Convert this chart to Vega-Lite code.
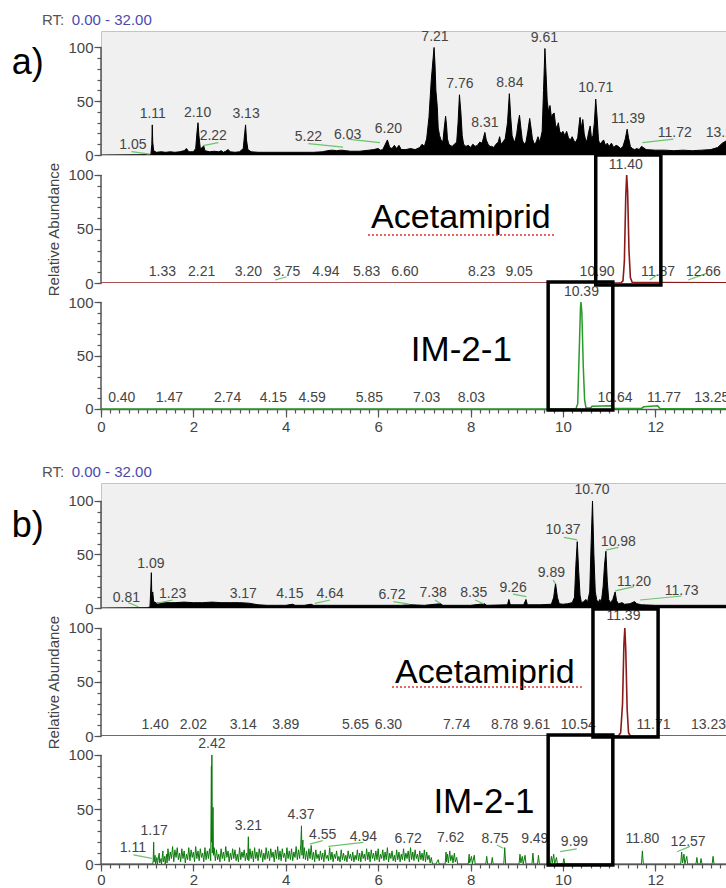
{
"$schema":"https://vega.github.io/schema/vega-lite/v6.json",
"padding":{"left":11,"top":12,"right":0,"bottom":0},
"bounds":"flush",
"spacing":0,
"config":{"font":"Liberation Sans","view":{"stroke":null},"concat":{"spacing":0},
 "axis":{"grid":false,"labelColor":"#444","labelFontSize":15,"tickColor":"#555","domainColor":"#555","titleFontWeight":"normal","titleFontSize":15,"titleColor":"#444"}},
"datasets":{
"a1":[{"rt":0,"ab":0},{"rt":1.0,"ab":0.3},{"rt":1.08,"ab":0.5},{"rt":1.1,"ab":10},{"rt":1.11,"ab":28},{"rt":1.12,"ab":12},{"rt":1.14,"ab":4},{"rt":1.2,"ab":2.5},{"rt":1.3,"ab":3},{"rt":1.4,"ab":2.5},{"rt":1.5,"ab":3},{"rt":1.6,"ab":2.5},{"rt":1.7,"ab":3},{"rt":1.8,"ab":4},{"rt":1.85,"ab":6},{"rt":1.9,"ab":3},{"rt":2.0,"ab":3},{"rt":2.05,"ab":6},{"rt":2.08,"ab":22},{"rt":2.1,"ab":30},{"rt":2.12,"ab":18},{"rt":2.15,"ab":6},{"rt":2.2,"ab":7},{"rt":2.22,"ab":9},{"rt":2.25,"ab":4},{"rt":2.35,"ab":3},{"rt":2.45,"ab":3.5},{"rt":2.55,"ab":3},{"rt":2.6,"ab":4},{"rt":2.65,"ab":2.5},{"rt":2.7,"ab":3.5},{"rt":2.75,"ab":5},{"rt":2.8,"ab":3},{"rt":2.9,"ab":2.5},{"rt":3.0,"ab":3},{"rt":3.08,"ab":6},{"rt":3.11,"ab":20},{"rt":3.13,"ab":28},{"rt":3.15,"ab":14},{"rt":3.18,"ab":5},{"rt":3.25,"ab":3},{"rt":3.4,"ab":2.5},{"rt":3.6,"ab":2.5},{"rt":3.8,"ab":2.5},{"rt":4.0,"ab":2.5},{"rt":4.2,"ab":2.5},{"rt":4.4,"ab":2.5},{"rt":4.6,"ab":2.5},{"rt":4.8,"ab":3},{"rt":4.9,"ab":4},{"rt":5.0,"ab":4.5},{"rt":5.1,"ab":4},{"rt":5.2,"ab":4.5},{"rt":5.3,"ab":4},{"rt":5.4,"ab":3.5},{"rt":5.6,"ab":3.5},{"rt":5.8,"ab":4.5},{"rt":5.9,"ab":5},{"rt":6.0,"ab":6},{"rt":6.05,"ab":4.5},{"rt":6.1,"ab":5},{"rt":6.2,"ab":14},{"rt":6.25,"ab":7},{"rt":6.3,"ab":6},{"rt":6.35,"ab":9},{"rt":6.4,"ab":6},{"rt":6.45,"ab":9},{"rt":6.5,"ab":5},{"rt":6.6,"ab":5},{"rt":6.7,"ab":6},{"rt":6.8,"ab":5},{"rt":6.9,"ab":7},{"rt":6.95,"ab":10},{"rt":7.0,"ab":8},{"rt":7.05,"ab":15},{"rt":7.1,"ab":35},{"rt":7.15,"ab":70},{"rt":7.19,"ab":90},{"rt":7.21,"ab":100},{"rt":7.23,"ab":85},{"rt":7.25,"ab":60},{"rt":7.28,"ab":45},{"rt":7.3,"ab":25},{"rt":7.33,"ab":18},{"rt":7.36,"ab":14},{"rt":7.4,"ab":12},{"rt":7.43,"ab":25},{"rt":7.46,"ab":36},{"rt":7.48,"ab":28},{"rt":7.5,"ab":15},{"rt":7.53,"ab":10},{"rt":7.56,"ab":9},{"rt":7.6,"ab":8},{"rt":7.65,"ab":10},{"rt":7.7,"ab":12},{"rt":7.73,"ab":30},{"rt":7.76,"ab":56},{"rt":7.79,"ab":40},{"rt":7.82,"ab":18},{"rt":7.85,"ab":10},{"rt":7.9,"ab":8},{"rt":7.95,"ab":9},{"rt":8.0,"ab":7},{"rt":8.05,"ab":10},{"rt":8.1,"ab":8},{"rt":8.15,"ab":9},{"rt":8.2,"ab":12},{"rt":8.25,"ab":11},{"rt":8.28,"ab":16},{"rt":8.31,"ab":21},{"rt":8.34,"ab":14},{"rt":8.38,"ab":10},{"rt":8.42,"ab":8},{"rt":8.46,"ab":8},{"rt":8.5,"ab":7},{"rt":8.55,"ab":10},{"rt":8.6,"ab":12},{"rt":8.63,"ab":17},{"rt":8.66,"ab":10},{"rt":8.7,"ab":12},{"rt":8.75,"ab":15},{"rt":8.8,"ab":30},{"rt":8.84,"ab":57},{"rt":8.87,"ab":35},{"rt":8.9,"ab":18},{"rt":8.93,"ab":14},{"rt":8.96,"ab":12},{"rt":9.0,"ab":20},{"rt":9.03,"ab":30},{"rt":9.06,"ab":37},{"rt":9.09,"ab":25},{"rt":9.12,"ab":14},{"rt":9.16,"ab":10},{"rt":9.2,"ab":12},{"rt":9.24,"ab":22},{"rt":9.28,"ab":34},{"rt":9.31,"ab":25},{"rt":9.34,"ab":15},{"rt":9.38,"ab":10},{"rt":9.42,"ab":12},{"rt":9.46,"ab":17},{"rt":9.5,"ab":12},{"rt":9.55,"ab":22},{"rt":9.58,"ab":60},{"rt":9.61,"ab":99},{"rt":9.63,"ab":80},{"rt":9.66,"ab":50},{"rt":9.69,"ab":40},{"rt":9.72,"ab":46},{"rt":9.75,"ab":35},{"rt":9.78,"ab":38},{"rt":9.81,"ab":39},{"rt":9.84,"ab":28},{"rt":9.87,"ab":25},{"rt":9.9,"ab":30},{"rt":9.93,"ab":22},{"rt":9.96,"ab":20},{"rt":10.0,"ab":22},{"rt":10.04,"ab":18},{"rt":10.08,"ab":22},{"rt":10.12,"ab":16},{"rt":10.16,"ab":14},{"rt":10.2,"ab":17},{"rt":10.24,"ab":13},{"rt":10.28,"ab":12},{"rt":10.32,"ab":16},{"rt":10.35,"ab":28},{"rt":10.37,"ab":35},{"rt":10.4,"ab":25},{"rt":10.43,"ab":33},{"rt":10.46,"ab":20},{"rt":10.5,"ab":12},{"rt":10.53,"ab":15},{"rt":10.56,"ab":22},{"rt":10.59,"ab":27},{"rt":10.62,"ab":15},{"rt":10.65,"ab":18},{"rt":10.68,"ab":30},{"rt":10.71,"ab":52},{"rt":10.74,"ab":35},{"rt":10.77,"ab":14},{"rt":10.8,"ab":10},{"rt":10.84,"ab":12},{"rt":10.88,"ab":14},{"rt":10.92,"ab":9},{"rt":10.96,"ab":11},{"rt":11.0,"ab":8},{"rt":11.05,"ab":11},{"rt":11.1,"ab":7},{"rt":11.15,"ab":9},{"rt":11.2,"ab":8},{"rt":11.25,"ab":6},{"rt":11.3,"ab":8},{"rt":11.35,"ab":15},{"rt":11.39,"ab":24},{"rt":11.42,"ab":16},{"rt":11.46,"ab":8},{"rt":11.5,"ab":6},{"rt":11.55,"ab":5},{"rt":11.6,"ab":6},{"rt":11.65,"ab":5},{"rt":11.7,"ab":8},{"rt":11.74,"ab":7},{"rt":11.8,"ab":5},{"rt":12.0,"ab":4.5},{"rt":12.2,"ab":4.5},{"rt":12.4,"ab":4},{"rt":12.6,"ab":4.5},{"rt":12.8,"ab":4},{"rt":13.0,"ab":4.5},{"rt":13.2,"ab":5},{"rt":13.35,"ab":7},{"rt":13.45,"ab":11},{"rt":13.53,"ab":13}],
"a2":[{"rt":0,"ab":0},{"rt":11.25,"ab":0},{"rt":11.3,"ab":2},{"rt":11.33,"ab":20},{"rt":11.36,"ab":80},{"rt":11.38,"ab":100},{"rt":11.4,"ab":85},{"rt":11.43,"ab":30},{"rt":11.46,"ab":5},{"rt":11.5,"ab":0.5},{"rt":11.8,"ab":0.5},{"rt":13.53,"ab":0.3}],
"a3":[{"rt":0,"ab":0},{"rt":10.28,"ab":0},{"rt":10.32,"ab":5},{"rt":10.35,"ab":50},{"rt":10.38,"ab":95},{"rt":10.39,"ab":100},{"rt":10.41,"ab":90},{"rt":10.44,"ab":40},{"rt":10.47,"ab":8},{"rt":10.5,"ab":1},{"rt":10.6,"ab":1},{"rt":10.63,"ab":2.5},{"rt":11.05,"ab":3},{"rt":11.1,"ab":0.5},{"rt":11.7,"ab":0.5},{"rt":11.75,"ab":2},{"rt":12.05,"ab":3},{"rt":12.1,"ab":0.5},{"rt":13.53,"ab":0.3}],
"b1":[{"rt":0,"ab":0},{"rt":1.0,"ab":0.3},{"rt":1.06,"ab":1},{"rt":1.08,"ab":20},{"rt":1.09,"ab":33},{"rt":1.1,"ab":10},{"rt":1.12,"ab":15},{"rt":1.14,"ab":6},{"rt":1.2,"ab":4.5},{"rt":1.4,"ab":5},{"rt":1.6,"ab":5},{"rt":1.8,"ab":5.5},{"rt":2.0,"ab":5},{"rt":2.2,"ab":5},{"rt":2.4,"ab":5.5},{"rt":2.6,"ab":5},{"rt":2.8,"ab":5},{"rt":3.0,"ab":5},{"rt":3.2,"ab":4.5},{"rt":3.4,"ab":3},{"rt":3.6,"ab":2.5},{"rt":3.8,"ab":2.5},{"rt":4.0,"ab":2.5},{"rt":4.15,"ab":3.5},{"rt":4.2,"ab":2.5},{"rt":4.4,"ab":2.5},{"rt":4.55,"ab":3.5},{"rt":4.6,"ab":2.5},{"rt":4.8,"ab":2.5},{"rt":5.0,"ab":2.5},{"rt":5.5,"ab":2.5},{"rt":6.0,"ab":2.5},{"rt":6.5,"ab":2.5},{"rt":6.7,"ab":3},{"rt":7.0,"ab":2.5},{"rt":7.35,"ab":4},{"rt":7.4,"ab":2.5},{"rt":8.0,"ab":2.5},{"rt":8.3,"ab":4},{"rt":8.35,"ab":2.5},{"rt":8.8,"ab":3},{"rt":8.83,"ab":8},{"rt":8.86,"ab":3},{"rt":9.15,"ab":3},{"rt":9.2,"ab":8},{"rt":9.23,"ab":3},{"rt":9.5,"ab":3},{"rt":9.75,"ab":3.5},{"rt":9.8,"ab":10},{"rt":9.84,"ab":23},{"rt":9.88,"ab":10},{"rt":9.92,"ab":4},{"rt":10.0,"ab":3.5},{"rt":10.1,"ab":4},{"rt":10.2,"ab":5},{"rt":10.25,"ab":10},{"rt":10.28,"ab":40},{"rt":10.31,"ab":62},{"rt":10.34,"ab":35},{"rt":10.37,"ab":12},{"rt":10.4,"ab":5},{"rt":10.45,"ab":6},{"rt":10.5,"ab":8},{"rt":10.53,"ab":5},{"rt":10.58,"ab":15},{"rt":10.61,"ab":60},{"rt":10.64,"ab":100},{"rt":10.67,"ab":50},{"rt":10.7,"ab":15},{"rt":10.73,"ab":8},{"rt":10.76,"ab":5},{"rt":10.8,"ab":8},{"rt":10.83,"ab":5},{"rt":10.87,"ab":20},{"rt":10.9,"ab":40},{"rt":10.93,"ab":53},{"rt":10.96,"ab":25},{"rt":10.99,"ab":8},{"rt":11.03,"ab":5},{"rt":11.08,"ab":8},{"rt":11.13,"ab":15},{"rt":11.16,"ab":7},{"rt":11.2,"ab":4},{"rt":11.28,"ab":5},{"rt":11.33,"ab":3.5},{"rt":11.45,"ab":4},{"rt":11.55,"ab":6},{"rt":11.6,"ab":4},{"rt":11.7,"ab":3},{"rt":12.0,"ab":2.5},{"rt":12.5,"ab":2.5},{"rt":13.0,"ab":2.5},{"rt":13.53,"ab":2.5}],
"b2":[{"rt":0,"ab":0},{"rt":11.2,"ab":0},{"rt":11.25,"ab":3},{"rt":11.29,"ab":30},{"rt":11.32,"ab":85},{"rt":11.34,"ab":100},{"rt":11.36,"ab":80},{"rt":11.39,"ab":25},{"rt":11.42,"ab":3},{"rt":11.46,"ab":0},{"rt":13.53,"ab":0}],
"b3":[{"rt":0,"ab":0},{"rt":1.12,"ab":0},{"rt":1.13,"ab":3},{"rt":1.14,"ab":20},{"rt":1.15,"ab":2},{"rt":1.17,"ab":8},{"rt":1.18,"ab":0},{"rt":1.21,"ab":6},{"rt":1.22,"ab":0},{"rt":1.26,"ab":10},{"rt":1.27,"ab":1},{"rt":1.3,"ab":5},{"rt":1.31,"ab":0},{"rt":1.34,"ab":12},{"rt":1.35,"ab":2},{"rt":1.38,"ab":7},{"rt":1.39,"ab":0},{"rt":1.42,"ab":9},{"rt":1.43,"ab":1},
{"rt":1.45,"ab":14},{"rt":1.475,"ab":3},{"rt":1.5,"ab":11},{"rt":1.525,"ab":5},{"rt":1.55,"ab":16},{"rt":1.575,"ab":2},{"rt":1.6,"ab":13},{"rt":1.625,"ab":6},{"rt":1.65,"ab":15},{"rt":1.675,"ab":4},{"rt":1.7,"ab":10},{"rt":1.725,"ab":2},{"rt":1.75,"ab":14},{"rt":1.775,"ab":5},{"rt":1.8,"ab":12},{"rt":1.825,"ab":1},{"rt":1.85,"ab":9},{"rt":1.875,"ab":4},{"rt":1.9,"ab":15},{"rt":1.925,"ab":3},{"rt":1.95,"ab":13},{"rt":1.975,"ab":6},{"rt":2.0,"ab":11},{"rt":2.025,"ab":2},{"rt":2.05,"ab":16},{"rt":2.075,"ab":5},{"rt":2.1,"ab":12},{"rt":2.125,"ab":3},{"rt":2.15,"ab":14},{"rt":2.175,"ab":6},{"rt":2.2,"ab":10},{"rt":2.225,"ab":2},{"rt":2.25,"ab":15},{"rt":2.275,"ab":4},{"rt":2.3,"ab":12},{"rt":2.325,"ab":5},{"rt":2.35,"ab":14},{"rt":2.375,"ab":3},
{"rt":2.39,"ab":90},{"rt":2.395,"ab":20},{"rt":2.4,"ab":100},{"rt":2.41,"ab":10},{"rt":2.425,"ab":52},{"rt":2.435,"ab":8},{"rt":2.45,"ab":15},{"rt":2.475,"ab":3},
{"rt":2.5,"ab":13},{"rt":2.525,"ab":4},{"rt":2.55,"ab":9},{"rt":2.575,"ab":2},{"rt":2.6,"ab":14},{"rt":2.625,"ab":5},{"rt":2.65,"ab":11},{"rt":2.675,"ab":3},{"rt":2.7,"ab":16},{"rt":2.725,"ab":6},{"rt":2.75,"ab":12},{"rt":2.775,"ab":2},{"rt":2.8,"ab":10},{"rt":2.825,"ab":4},{"rt":2.85,"ab":14},{"rt":2.875,"ab":5},{"rt":2.9,"ab":13},{"rt":2.925,"ab":3},{"rt":2.95,"ab":9},{"rt":2.975,"ab":2},{"rt":3.0,"ab":15},{"rt":3.025,"ab":4},{"rt":3.05,"ab":11},{"rt":3.075,"ab":6},{"rt":3.1,"ab":13},{"rt":3.125,"ab":3},{"rt":3.15,"ab":10},{"rt":3.175,"ab":4},{"rt":3.19,"ab":25},{"rt":3.2,"ab":3},{"rt":3.225,"ab":14},{"rt":3.25,"ab":5},{"rt":3.275,"ab":12},{"rt":3.3,"ab":2},{"rt":3.325,"ab":15},{"rt":3.35,"ab":5},{"rt":3.375,"ab":11},{"rt":3.4,"ab":3},{"rt":3.425,"ab":14},{"rt":3.45,"ab":6},{"rt":3.475,"ab":13},{"rt":3.5,"ab":2},{"rt":3.525,"ab":10},{"rt":3.55,"ab":4},{"rt":3.575,"ab":15},{"rt":3.6,"ab":5},{"rt":3.625,"ab":12},{"rt":3.65,"ab":3},{"rt":3.675,"ab":14},{"rt":3.7,"ab":6},{"rt":3.725,"ab":11},{"rt":3.75,"ab":2},{"rt":3.775,"ab":13},{"rt":3.8,"ab":5},{"rt":3.825,"ab":16},{"rt":3.85,"ab":4},{"rt":3.875,"ab":12},{"rt":3.9,"ab":3},{"rt":3.925,"ab":14},{"rt":3.95,"ab":6},{"rt":3.975,"ab":10},{"rt":4.0,"ab":2},{"rt":4.025,"ab":15},{"rt":4.05,"ab":5},{"rt":4.075,"ab":12},{"rt":4.1,"ab":4},{"rt":4.125,"ab":14},{"rt":4.15,"ab":3},{"rt":4.175,"ab":11},{"rt":4.2,"ab":6},{"rt":4.225,"ab":16},{"rt":4.25,"ab":4},{"rt":4.275,"ab":13},{"rt":4.3,"ab":5},{"rt":4.325,"ab":18},{"rt":4.34,"ab":35},{"rt":4.35,"ab":8},{"rt":4.37,"ab":22},{"rt":4.38,"ab":5},{"rt":4.4,"ab":15},{"rt":4.425,"ab":4},{"rt":4.45,"ab":12},{"rt":4.475,"ab":3},{"rt":4.5,"ab":14},{"rt":4.525,"ab":5},{"rt":4.55,"ab":17},{"rt":4.575,"ab":4},{"rt":4.6,"ab":11},{"rt":4.625,"ab":2},{"rt":4.65,"ab":13},{"rt":4.675,"ab":5},{"rt":4.7,"ab":9},{"rt":4.725,"ab":3},{"rt":4.75,"ab":12},{"rt":4.775,"ab":4},{"rt":4.8,"ab":10},{"rt":4.825,"ab":2},{"rt":4.85,"ab":13},{"rt":4.875,"ab":5},{"rt":4.9,"ab":8},{"rt":4.925,"ab":3},{"rt":4.95,"ab":15},{"rt":4.975,"ab":4},{"rt":5.0,"ab":11},{"rt":5.025,"ab":2},{"rt":5.05,"ab":9},{"rt":5.075,"ab":5},{"rt":5.1,"ab":12},{"rt":5.125,"ab":3},{"rt":5.15,"ab":7},{"rt":5.175,"ab":2},{"rt":5.2,"ab":13},{"rt":5.225,"ab":4},{"rt":5.25,"ab":10},{"rt":5.275,"ab":3},{"rt":5.3,"ab":8},{"rt":5.325,"ab":2},{"rt":5.35,"ab":12},{"rt":5.375,"ab":5},{"rt":5.4,"ab":9},{"rt":5.425,"ab":3},{"rt":5.45,"ab":11},{"rt":5.475,"ab":2},{"rt":5.5,"ab":8},{"rt":5.525,"ab":4},{"rt":5.55,"ab":13},{"rt":5.575,"ab":3},{"rt":5.6,"ab":10},{"rt":5.625,"ab":2},{"rt":5.65,"ab":12},{"rt":5.675,"ab":5},{"rt":5.7,"ab":9},{"rt":5.725,"ab":3},{"rt":5.75,"ab":14},{"rt":5.775,"ab":4},{"rt":5.8,"ab":11},{"rt":5.825,"ab":2},{"rt":5.85,"ab":13},{"rt":5.875,"ab":5},{"rt":5.9,"ab":10},{"rt":5.925,"ab":3},{"rt":5.95,"ab":12},{"rt":5.975,"ab":4},{"rt":6.0,"ab":14},{"rt":6.025,"ab":2},{"rt":6.05,"ab":9},{"rt":6.075,"ab":5},{"rt":6.1,"ab":13},{"rt":6.125,"ab":3},{"rt":6.15,"ab":11},{"rt":6.175,"ab":4},{"rt":6.2,"ab":15},{"rt":6.225,"ab":2},{"rt":6.25,"ab":10},{"rt":6.275,"ab":5},{"rt":6.3,"ab":12},{"rt":6.325,"ab":3},{"rt":6.35,"ab":8},{"rt":6.375,"ab":2},{"rt":6.4,"ab":13},{"rt":6.425,"ab":4},{"rt":6.45,"ab":11},{"rt":6.475,"ab":2},{"rt":6.5,"ab":9},{"rt":6.525,"ab":4},{"rt":6.55,"ab":14},{"rt":6.575,"ab":3},{"rt":6.6,"ab":10},{"rt":6.625,"ab":5},{"rt":6.65,"ab":12},{"rt":6.675,"ab":2},{"rt":6.7,"ab":15},{"rt":6.725,"ab":4},{"rt":6.75,"ab":11},{"rt":6.775,"ab":3},{"rt":6.8,"ab":13},{"rt":6.825,"ab":5},{"rt":6.85,"ab":9},{"rt":6.875,"ab":2},{"rt":6.9,"ab":12},{"rt":6.925,"ab":4},{"rt":6.95,"ab":10},{"rt":6.975,"ab":3},{"rt":7.0,"ab":13},{"rt":7.025,"ab":2},{"rt":7.05,"ab":11},{"rt":7.075,"ab":4},{"rt":7.1,"ab":8},{"rt":7.125,"ab":1},{"rt":7.15,"ab":6},{"rt":7.175,"ab":0},{"rt":7.25,"ab":0},{"rt":7.3,"ab":4},{"rt":7.32,"ab":0},{"rt":7.45,"ab":0},{"rt":7.47,"ab":11},{"rt":7.48,"ab":2},{"rt":7.5,"ab":9},{"rt":7.52,"ab":1},{"rt":7.55,"ab":12},{"rt":7.57,"ab":3},{"rt":7.6,"ab":8},{"rt":7.62,"ab":1},{"rt":7.65,"ab":10},{"rt":7.67,"ab":2},{"rt":7.7,"ab":6},{"rt":7.72,"ab":0},{"rt":7.95,"ab":0},{"rt":7.97,"ab":9},{"rt":7.98,"ab":1},{"rt":8.02,"ab":7},{"rt":8.04,"ab":0},{"rt":8.08,"ab":8},{"rt":8.1,"ab":0},{"rt":8.33,"ab":0},{"rt":8.35,"ab":7},{"rt":8.37,"ab":0},{"rt":8.45,"ab":0},{"rt":8.47,"ab":6},{"rt":8.49,"ab":0},{"rt":8.72,"ab":0},{"rt":8.74,"ab":15},{"rt":8.76,"ab":0},{"rt":9.05,"ab":0},{"rt":9.07,"ab":9},{"rt":9.09,"ab":1},{"rt":9.12,"ab":7},{"rt":9.14,"ab":0},{"rt":9.18,"ab":8},{"rt":9.2,"ab":0},{"rt":9.33,"ab":0},{"rt":9.35,"ab":10},{"rt":9.37,"ab":0},{"rt":9.45,"ab":0},{"rt":9.47,"ab":8},{"rt":9.49,"ab":0},{"rt":9.73,"ab":0},{"rt":9.75,"ab":7},{"rt":9.77,"ab":1},{"rt":9.8,"ab":9},{"rt":9.82,"ab":0},{"rt":9.86,"ab":6},{"rt":9.88,"ab":0},{"rt":10.0,"ab":0},{"rt":10.02,"ab":5},{"rt":10.04,"ab":0},{"rt":11.7,"ab":0},{"rt":11.72,"ab":12},{"rt":11.74,"ab":0},{"rt":12.55,"ab":0},{"rt":12.57,"ab":11},{"rt":12.59,"ab":1},{"rt":12.62,"ab":9},{"rt":12.64,"ab":0},{"rt":12.68,"ab":7},{"rt":12.7,"ab":0},{"rt":12.88,"ab":0},{"rt":12.9,"ab":6},{"rt":12.92,"ab":0},{"rt":12.97,"ab":0},{"rt":12.99,"ab":5},{"rt":13.01,"ab":0},{"rt":13.23,"ab":0},{"rt":13.25,"ab":7},{"rt":13.27,"ab":0},{"rt":13.53,"ab":0}],
"la1":[{"rt":0.69,"ab":9,"lab":"1.05"},{"rt":1.12,"ab":37.7,"lab":"1.11"},{"rt":2.09,"ab":39.3,"lab":"2.10"},{"rt":2.43,"ab":17.4,"lab":"2.22"},{"rt":3.14,"ab":37.7,"lab":"3.13"},{"rt":4.49,"ab":16.5,"lab":"5.22"},{"rt":5.34,"ab":19,"lab":"6.03"},{"rt":6.22,"ab":24.3,"lab":"6.20"},{"rt":7.23,"ab":110,"lab":"7.21"},{"rt":7.77,"ab":66.4,"lab":"7.76"},{"rt":8.31,"ab":29.9,"lab":"8.31"},{"rt":8.85,"ab":67.3,"lab":"8.84"},{"rt":9.6,"ab":108.4,"lab":"9.61"},{"rt":10.71,"ab":62.6,"lab":"10.71"},{"rt":11.41,"ab":33.6,"lab":"11.39"},{"rt":12.42,"ab":20.6,"lab":"11.72"},{"rt":13.47,"ab":20.6,"lab":"13.29"}],
"la2":[{"rt":1.33,"ab":10.5,"lab":"1.33"},{"rt":2.18,"ab":10.5,"lab":"2.21"},{"rt":3.19,"ab":10.5,"lab":"3.20"},{"rt":4.02,"ab":10.5,"lab":"3.75"},{"rt":4.87,"ab":10.5,"lab":"4.94"},{"rt":5.75,"ab":10.5,"lab":"5.83"},{"rt":6.58,"ab":10.5,"lab":"6.60"},{"rt":8.24,"ab":10.5,"lab":"8.23"},{"rt":9.05,"ab":10.5,"lab":"9.05"},{"rt":10.74,"ab":10.5,"lab":"10.90"},{"rt":12.06,"ab":10.5,"lab":"11.87"},{"rt":13.04,"ab":10.5,"lab":"12.66"},{"rt":11.36,"ab":109,"lab":"11.40"}],
"la3":[{"rt":0.45,"ab":10,"lab":"0.40"},{"rt":1.48,"ab":10,"lab":"1.47"},{"rt":2.74,"ab":10,"lab":"2.74"},{"rt":3.73,"ab":10,"lab":"4.15"},{"rt":4.57,"ab":10,"lab":"4.59"},{"rt":5.81,"ab":10,"lab":"5.85"},{"rt":7.05,"ab":10,"lab":"7.03"},{"rt":8.02,"ab":10,"lab":"8.03"},{"rt":11.13,"ab":10,"lab":"10.64"},{"rt":12.19,"ab":10,"lab":"11.77"},{"rt":13.22,"ab":10,"lab":"13.25"},{"rt":10.4,"ab":109.6,"lab":"10.39"}],
"lb1":[{"rt":0.55,"ab":9.3,"lab":"0.81"},{"rt":1.08,"ab":41,"lab":"1.09"},{"rt":1.55,"ab":13,"lab":"1.23"},{"rt":3.08,"ab":13,"lab":"3.17"},{"rt":4.09,"ab":13,"lab":"4.15"},{"rt":4.96,"ab":13,"lab":"4.64"},{"rt":6.3,"ab":12,"lab":"6.72"},{"rt":7.19,"ab":14,"lab":"7.38"},{"rt":8.07,"ab":14,"lab":"8.35"},{"rt":8.92,"ab":19,"lab":"9.26"},{"rt":9.75,"ab":33,"lab":"9.89"},{"rt":10.0,"ab":73,"lab":"10.37"},{"rt":10.63,"ab":110,"lab":"10.70"},{"rt":11.2,"ab":62,"lab":"10.98"},{"rt":11.54,"ab":24.6,"lab":"11.20"},{"rt":12.57,"ab":16,"lab":"11.73"}],
"lb2":[{"rt":1.17,"ab":10.2,"lab":"1.40"},{"rt":2.0,"ab":10.2,"lab":"2.02"},{"rt":3.08,"ab":10.2,"lab":"3.14"},{"rt":4.0,"ab":10.2,"lab":"3.89"},{"rt":5.51,"ab":10.2,"lab":"5.65"},{"rt":6.22,"ab":10.2,"lab":"6.30"},{"rt":7.7,"ab":10.2,"lab":"7.74"},{"rt":8.74,"ab":10.2,"lab":"8.78"},{"rt":9.43,"ab":10.2,"lab":"9.61"},{"rt":10.33,"ab":10.2,"lab":"10.54"},{"rt":11.96,"ab":10.2,"lab":"11.71"},{"rt":13.15,"ab":10.2,"lab":"13.23"},{"rt":11.31,"ab":110.8,"lab":"11.39"}],
"lb3":[{"rt":2.4,"ab":110,"lab":"2.42"},{"rt":0.69,"ab":14.5,"lab":"1.11"},{"rt":1.15,"ab":30,"lab":"1.17"},{"rt":3.19,"ab":35,"lab":"3.21"},{"rt":4.33,"ab":44.7,"lab":"4.37"},{"rt":4.8,"ab":27,"lab":"4.55"},{"rt":5.68,"ab":24.7,"lab":"4.94"},{"rt":6.65,"ab":23,"lab":"6.72"},{"rt":7.57,"ab":23.6,"lab":"7.62"},{"rt":8.53,"ab":22.5,"lab":"8.75"},{"rt":9.39,"ab":22.5,"lab":"9.49"},{"rt":10.25,"ab":20,"lab":"9.99"},{"rt":11.72,"ab":23,"lab":"11.80"},{"rt":12.71,"ab":20.6,"lab":"12.57"}],
"ga1":[{"x1":0.66,"x2":1.06,"y1":3.1,"y2":0.9},{"x1":2.21,"x2":2.54,"y1":8.7,"y2":11.5},{"x1":4.49,"x2":5.24,"y1":10.5,"y2":7.4},{"x1":5.34,"x2":6.04,"y1":14.8,"y2":11.5},{"x1":11.72,"x2":12.39,"y1":11.5,"y2":14.8}],
"ga2":[{"x1":3.77,"x2":4.02,"y1":2.8,"y2":5.8},{"x1":11.88,"x2":12.03,"y1":2.8,"y2":7.4},{"x1":12.71,"x2":13.11,"y1":2.8,"y2":8.9}],
"gb1":[{"x1":0.59,"x2":0.81,"y1":5,"y2":1.2},{"x1":1.21,"x2":1.55,"y1":4.4,"y2":7.5},{"x1":4.63,"x2":4.96,"y1":4.4,"y2":7.5},{"x1":6.33,"x2":6.67,"y1":5.9,"y2":3.7},{"x1":7.23,"x2":7.34,"y1":7.5,"y2":4.4},{"x1":8.1,"x2":8.29,"y1":7.5,"y2":3.7},{"x1":8.92,"x2":9.21,"y1":13,"y2":10.6},{"x1":9.79,"x2":9.84,"y1":26,"y2":22.4},{"x1":10.02,"x2":10.31,"y1":66,"y2":63.6},{"x1":10.93,"x2":11.2,"y1":54,"y2":56.7},{"x1":11.13,"x2":11.54,"y1":16,"y2":20},{"x1":11.67,"x2":12.57,"y1":7.5,"y2":11.2}],
"gb3":[{"x1":0.7,"x2":1.1,"y1":8.3,"y2":5.2},{"x1":4.52,"x2":4.8,"y1":18.3,"y2":21.4},{"x1":4.92,"x2":5.68,"y1":16.2,"y2":19.9},{"x1":9.94,"x2":10.3,"y1":11.3,"y2":13.8},{"x1":12.47,"x2":12.75,"y1":11.3,"y2":16.2},{"x1":8.71,"x2":8.57,"y1":14.4,"y2":17.4}]
},
"vconcat":[
 {"width":625,"height":124,"view":{"fill":"#f0f0f0","stroke":"#c4c4c4"},"resolve":{"axis":{"x":"independent","y":"independent"}},
  "layer":[
   {"data":{"name":"a1"},"mark":{"type":"area","color":"#000","opacity":1,"clip":true,"line":{"color":"#000","strokeWidth":1}},
    "encoding":{"x":{"field":"rt","type":"quantitative","scale":{"domain":[0,13.53],"nice":false,"zero":false},"axis":null},
     "y":{"field":"ab","type":"quantitative","scale":{"domain":[0,115.3],"nice":false},"axis":{"title":null,"orient":"left","values":[0,50,100],"domain":false,"tickSize":7,"labelPadding":1,"tickWidth":1.2}}}},
   {"data":{"values":[{}]},"mark":{"type":"rule","color":"#555","strokeWidth":1.5},"encoding":{"x":{"datum":0,"type":"quantitative","axis":null},"y":{"datum":0,"type":"quantitative","axis":{"title":null,"orient":"left","values":[0,10,20,30,40,50,60,70,80,90,100],"domain":false,"labels":false,"tickSize":4,"tickWidth":1.2}},"y2":{"datum":100}}},
   {"data":{"name":"ga1"},"mark":{"type":"rule","color":"#6cc46c","strokeWidth":1.2,"clip":true},"encoding":{"x":{"field":"x1","type":"quantitative","axis":null},"x2":{"field":"x2"},"y":{"field":"y1","type":"quantitative","axis":null},"y2":{"field":"y2"}}},
   {"data":{"name":"la1"},"mark":{"type":"text","fontSize":14,"color":"#444","clip":true},"encoding":{"x":{"field":"rt","type":"quantitative","axis":null},"y":{"field":"ab","type":"quantitative","axis":null},"text":{"field":"lab"}}},
   {"data":{"values":[{}]},"mark":{"type":"text","fontSize":36,"align":"left","baseline":"alphabetic","color":"#000"},"encoding":{"x":{"datum":-1.93,"type":"quantitative","axis":null},"y":{"datum":75,"type":"quantitative","axis":null},"text":{"value":"a)"}}},
   {"data":{"values":[{}]},"mark":{"type":"text","fontSize":15,"align":"left","baseline":"alphabetic","color":"#555"},"encoding":{"x":{"datum":-1.277,"type":"quantitative","axis":null},"y":{"datum":120.8,"type":"quantitative","axis":null},"text":{"value":"RT:"}}},
   {"data":{"values":[{}]},"mark":{"type":"text","fontSize":15,"align":"left","baseline":"alphabetic","color":"#4a4ab0"},"encoding":{"x":{"datum":-0.634,"type":"quantitative","axis":null},"y":{"datum":120.8,"type":"quantitative","axis":null},"text":{"value":"0.00 - 32.00"}}}
  ]},
 {"width":625,"height":128,"resolve":{"axis":{"x":"independent","y":"independent"}},
  "layer":[
   {"data":{"name":"a2"},"mark":{"type":"line","color":"#8b1a1a","strokeWidth":1.6,"clip":true},
    "encoding":{"x":{"field":"rt","type":"quantitative","scale":{"domain":[0,13.53],"nice":false,"zero":false},"axis":null},
     "y":{"field":"ab","type":"quantitative","scale":{"domain":[0,118.5],"nice":false},"axis":{"title":"Relative Abundance","titlePadding":6,"titleY":74,"orient":"left","values":[0,50,100],"domain":false,"tickSize":7,"labelPadding":1,"tickWidth":1.2}}}},
   {"data":{"values":[{}]},"mark":{"type":"rule","color":"#555","strokeWidth":1.5},"encoding":{"x":{"datum":0,"type":"quantitative","axis":null},"y":{"datum":0,"type":"quantitative","axis":{"title":null,"orient":"left","values":[0,10,20,30,40,50,60,70,80,90,100],"domain":false,"labels":false,"tickSize":4,"tickWidth":1.2}},"y2":{"datum":100}}},
   {"data":{"name":"ga2"},"mark":{"type":"rule","color":"#6cc46c","strokeWidth":1.2,"clip":true},"encoding":{"x":{"field":"x1","type":"quantitative","axis":null},"x2":{"field":"x2"},"y":{"field":"y1","type":"quantitative","axis":null},"y2":{"field":"y2"}}},
   {"data":{"name":"la2"},"mark":{"type":"text","fontSize":14,"color":"#444","clip":true},"encoding":{"x":{"field":"rt","type":"quantitative","axis":null},"y":{"field":"ab","type":"quantitative","axis":null},"text":{"field":"lab"}}},
   {"data":{"values":[{}]},"mark":{"type":"text","fontSize":34,"align":"center","baseline":"alphabetic","color":"#000"},"encoding":{"x":{"datum":7.79,"type":"quantitative","axis":null},"y":{"datum":51,"type":"quantitative","axis":null},"text":{"value":"Acetamiprid"}}},
   {"data":{"values":[{}]},"mark":{"type":"rule","color":"#e03030","strokeWidth":1.5,"strokeDash":[2,2]},"encoding":{"x":{"datum":5.78,"type":"quantitative","axis":null},"x2":{"datum":9.83},"y":{"datum":44.4,"type":"quantitative","axis":null}}},
   {"data":{"values":[{}]},"mark":{"type":"rect","filled":false,"color":"#000","strokeWidth":3.5},"encoding":{"x":{"datum":10.71,"type":"quantitative","axis":null},"x2":{"datum":12.12},"y":{"datum":-1.9,"type":"quantitative","axis":null},"y2":{"datum":118.5}}}
  ]},
 {"width":625,"height":200,"resolve":{"axis":{"x":"independent","y":"independent"}},
  "layer":[
   {"data":{"name":"a3"},"mark":{"type":"line","color":"#2a9a2a","strokeWidth":1.5,"clip":true},
    "encoding":{"x":{"field":"rt","type":"quantitative","scale":{"domain":[0,13.53],"nice":false,"zero":false},"axis":{"title":null,"orient":"bottom","offset":-74,"values":[0,2,4,6,8,10,12],"format":"d","domainWidth":1.5,"labelFlush":false,"tickSize":8,"labelPadding":2,"tickWidth":1.2}},
     "y":{"field":"ab","type":"quantitative","scale":{"domain":[-69.2,117.8],"nice":false,"zero":false},"axis":{"title":null,"orient":"left","values":[0,50,100],"domain":false,"tickSize":7,"labelPadding":1,"tickWidth":1.2}}}},
   {"data":{"values":[{}]},"mark":{"type":"rule","color":"#555","strokeWidth":1.5},"encoding":{"x":{"datum":0,"type":"quantitative","axis":{"title":null,"orient":"bottom","offset":-74,"values":[0,0.2,0.4,0.6,0.8,1,1.2,1.4,1.6,1.8,2,2.2,2.4,2.6,2.8,3,3.2,3.4,3.6,3.8,4,4.2,4.4,4.6,4.8,5,5.2,5.4,5.6,5.8,6,6.2,6.4,6.6,6.8,7,7.2,7.4,7.6,7.8,8,8.2,8.4,8.6,8.8,9,9.2,9.4,9.6,9.8,10,10.2,10.4,10.6,10.8,11,11.2,11.4,11.6,11.8,12,12.2,12.4,12.6,12.8,13,13.2,13.4],"domain":false,"labels":false,"tickSize":4,"tickWidth":1.2}},"y":{"datum":0,"type":"quantitative","axis":{"title":null,"orient":"left","values":[0,10,20,30,40,50,60,70,80,90,100],"domain":false,"labels":false,"tickSize":4,"tickWidth":1.2}},"y2":{"datum":100}}},
   {"data":{"name":"la3"},"mark":{"type":"text","fontSize":14,"color":"#444","clip":true},"encoding":{"x":{"field":"rt","type":"quantitative","axis":null},"y":{"field":"ab","type":"quantitative","axis":null},"text":{"field":"lab"}}},
   {"data":{"values":[{}]},"mark":{"type":"text","fontSize":35,"align":"center","baseline":"alphabetic","color":"#000"},"encoding":{"x":{"datum":7.8,"type":"quantitative","axis":null},"y":{"datum":45,"type":"quantitative","axis":null},"text":{"value":"IM-2-1"}}},
   {"data":{"values":[{}]},"mark":{"type":"rect","filled":false,"color":"#000","strokeWidth":3.5},"encoding":{"x":{"datum":9.68,"type":"quantitative","axis":null},"x2":{"datum":11.08},"y":{"datum":-0.9,"type":"quantitative","axis":null},"y2":{"datum":118.7}}}
  ]},
 {"width":625,"height":125,"view":{"fill":"#f0f0f0","stroke":"#c4c4c4"},"resolve":{"axis":{"x":"independent","y":"independent"}},
  "layer":[
   {"data":{"name":"b1"},"mark":{"type":"area","color":"#000","opacity":1,"clip":true,"line":{"color":"#000","strokeWidth":1}},
    "encoding":{"x":{"field":"rt","type":"quantitative","scale":{"domain":[0,13.53],"nice":false,"zero":false},"axis":null},
     "y":{"field":"ab","type":"quantitative","scale":{"domain":[0,116.8],"nice":false},"axis":{"title":null,"orient":"left","values":[0,50,100],"domain":false,"tickSize":7,"labelPadding":1,"tickWidth":1.2}}}},
   {"data":{"values":[{}]},"mark":{"type":"rule","color":"#555","strokeWidth":1.5},"encoding":{"x":{"datum":0,"type":"quantitative","axis":null},"y":{"datum":0,"type":"quantitative","axis":{"title":null,"orient":"left","values":[0,10,20,30,40,50,60,70,80,90,100],"domain":false,"labels":false,"tickSize":4,"tickWidth":1.2}},"y2":{"datum":100}}},
   {"data":{"name":"gb1"},"mark":{"type":"rule","color":"#6cc46c","strokeWidth":1.2,"clip":true},"encoding":{"x":{"field":"x1","type":"quantitative","axis":null},"x2":{"field":"x2"},"y":{"field":"y1","type":"quantitative","axis":null},"y2":{"field":"y2"}}},
   {"data":{"name":"lb1"},"mark":{"type":"text","fontSize":14,"color":"#444","clip":true},"encoding":{"x":{"field":"rt","type":"quantitative","axis":null},"y":{"field":"ab","type":"quantitative","axis":null},"text":{"field":"lab"}}},
   {"data":{"values":[{}]},"mark":{"type":"text","fontSize":36,"align":"left","baseline":"alphabetic","color":"#000"},"encoding":{"x":{"datum":-1.93,"type":"quantitative","axis":null},"y":{"datum":66.6,"type":"quantitative","axis":null},"text":{"value":"b)"}}},
   {"data":{"values":[{}]},"mark":{"type":"text","fontSize":15,"align":"left","baseline":"alphabetic","color":"#555"},"encoding":{"x":{"datum":-1.277,"type":"quantitative","axis":null},"y":{"datum":122.7,"type":"quantitative","axis":null},"text":{"value":"RT:"}}},
   {"data":{"values":[{}]},"mark":{"type":"text","fontSize":15,"align":"left","baseline":"alphabetic","color":"#4a4ab0"},"encoding":{"x":{"datum":-0.634,"type":"quantitative","axis":null},"y":{"datum":122.7,"type":"quantitative","axis":null},"text":{"value":"0.00 - 32.00"}}}
  ]},
 {"width":625,"height":128,"resolve":{"axis":{"x":"independent","y":"independent"}},
  "layer":[
   {"data":{"name":"b2"},"mark":{"type":"line","color":"#8b1a1a","strokeWidth":1.6,"clip":true},
    "encoding":{"x":{"field":"rt","type":"quantitative","scale":{"domain":[0,13.53],"nice":false,"zero":false},"axis":null},
     "y":{"field":"ab","type":"quantitative","scale":{"domain":[0,118.5],"nice":false},"axis":{"title":"Relative Abundance","titlePadding":6,"titleY":74,"orient":"left","values":[0,50,100],"domain":false,"tickSize":7,"labelPadding":1,"tickWidth":1.2}}}},
   {"data":{"values":[{}]},"mark":{"type":"rule","color":"#555","strokeWidth":1.5},"encoding":{"x":{"datum":0,"type":"quantitative","axis":null},"y":{"datum":0,"type":"quantitative","axis":{"title":null,"orient":"left","values":[0,10,20,30,40,50,60,70,80,90,100],"domain":false,"labels":false,"tickSize":4,"tickWidth":1.2}},"y2":{"datum":100}}},
   {"data":{"name":"lb2"},"mark":{"type":"text","fontSize":14,"color":"#444","clip":true},"encoding":{"x":{"field":"rt","type":"quantitative","axis":null},"y":{"field":"ab","type":"quantitative","axis":null},"text":{"field":"lab"}}},
   {"data":{"values":[{}]},"mark":{"type":"text","fontSize":34,"align":"center","baseline":"alphabetic","color":"#000"},"encoding":{"x":{"datum":8.31,"type":"quantitative","axis":null},"y":{"datum":49,"type":"quantitative","axis":null},"text":{"value":"Acetamiprid"}}},
   {"data":{"values":[{}]},"mark":{"type":"rule","color":"#e03030","strokeWidth":1.5,"strokeDash":[2,2]},"encoding":{"x":{"datum":6.3,"type":"quantitative","axis":null},"x2":{"datum":10.41},"y":{"datum":45.4,"type":"quantitative","axis":null}}},
   {"data":{"values":[{}]},"mark":{"type":"rect","filled":false,"color":"#000","strokeWidth":3.5},"encoding":{"x":{"datum":10.65,"type":"quantitative","axis":null},"x2":{"datum":12.06},"y":{"datum":-0.9,"type":"quantitative","axis":null},"y2":{"datum":117.6}}}
  ]},
 {"width":625,"height":128,"resolve":{"axis":{"x":"independent","y":"independent"}},
  "layer":[
   {"data":{"name":"b3"},"mark":{"type":"line","color":"#0b7a0b","strokeWidth":1,"clip":true},
    "encoding":{"x":{"field":"rt","type":"quantitative","scale":{"domain":[0,13.53],"nice":false,"zero":false},"axis":{"title":null,"orient":"bottom","values":[0,2,4,6,8,10,12],"format":"d","domainWidth":1.5,"labelFlush":false,"tickSize":7,"labelPadding":1,"tickWidth":1.2}},
     "y":{"field":"ab","type":"quantitative","scale":{"domain":[0,117.4],"nice":false},"axis":{"title":null,"orient":"left","values":[0,50,100],"domain":false,"tickSize":7,"labelPadding":1,"tickWidth":1.2}}}},
   {"data":{"values":[{}]},"mark":{"type":"rule","color":"#555","strokeWidth":1.5},"encoding":{"x":{"datum":0,"type":"quantitative","axis":{"title":null,"orient":"bottom","values":[0,0.2,0.4,0.6,0.8,1,1.2,1.4,1.6,1.8,2,2.2,2.4,2.6,2.8,3,3.2,3.4,3.6,3.8,4,4.2,4.4,4.6,4.8,5,5.2,5.4,5.6,5.8,6,6.2,6.4,6.6,6.8,7,7.2,7.4,7.6,7.8,8,8.2,8.4,8.6,8.8,9,9.2,9.4,9.6,9.8,10,10.2,10.4,10.6,10.8,11,11.2,11.4,11.6,11.8,12,12.2,12.4,12.6,12.8,13,13.2,13.4],"domain":false,"labels":false,"tickSize":4,"tickWidth":1.2}},"y":{"datum":0,"type":"quantitative","axis":{"title":null,"orient":"left","values":[0,10,20,30,40,50,60,70,80,90,100],"domain":false,"labels":false,"tickSize":4,"tickWidth":1.2}},"y2":{"datum":100}}},
   {"data":{"name":"gb3"},"mark":{"type":"rule","color":"#6cc46c","strokeWidth":1.2,"clip":true},"encoding":{"x":{"field":"x1","type":"quantitative","axis":null},"x2":{"field":"x2"},"y":{"field":"y1","type":"quantitative","axis":null},"y2":{"field":"y2"}}},
   {"data":{"name":"lb3"},"mark":{"type":"text","fontSize":14,"color":"#444","clip":true},"encoding":{"x":{"field":"rt","type":"quantitative","axis":null},"y":{"field":"ab","type":"quantitative","axis":null},"text":{"field":"lab"}}},
   {"data":{"values":[{}]},"mark":{"type":"text","fontSize":35,"align":"center","baseline":"alphabetic","color":"#000"},"encoding":{"x":{"datum":8.29,"type":"quantitative","axis":null},"y":{"datum":46.8,"type":"quantitative","axis":null},"text":{"value":"IM-2-1"}}},
   {"data":{"values":[{}]},"mark":{"type":"rect","filled":false,"color":"#000","strokeWidth":3.5},"encoding":{"x":{"datum":9.68,"type":"quantitative","axis":null},"x2":{"datum":11.08},"y":{"datum":-0.9,"type":"quantitative","axis":null},"y2":{"datum":118.3}}}
  ]}
]
}
